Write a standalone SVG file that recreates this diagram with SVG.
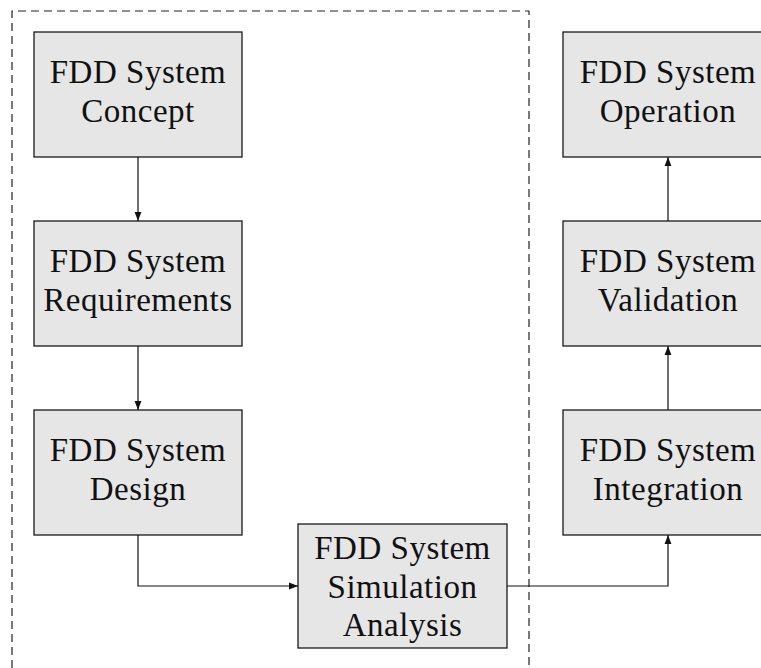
<svg xmlns="http://www.w3.org/2000/svg" width="761" height="668" viewBox="0 0 761 668">
<defs>
<style>
.box{fill:#e6e6e6;stroke:#1a1a1a;stroke-width:1.3}
.t{font-family:"Liberation Serif","DejaVu Serif",serif;font-size:33px;letter-spacing:0.5px;fill:#111;text-anchor:middle}
.c{fill:none;stroke:#111;stroke-width:1.2}
.dash{fill:none;stroke:#222;stroke-width:1.2;stroke-dasharray:8 5}
</style>
<marker id="ah" viewBox="0 0 10 10" refX="10" refY="5" markerWidth="9" markerHeight="9" markerUnits="userSpaceOnUse" orient="auto">
<path d="M0,1.2 L10,5 L0,8.8 Z" fill="#111"/>
</marker>
</defs>
<rect width="761" height="668" fill="#fff"/>
<path class="dash" d="M12,668 L12,11 L529,11 L529,668"/>
<g id="concept"><rect class="box" x="34" y="32" width="208" height="125"/><text class="t" x="138" y="83">FDD System</text><text class="t" x="138" y="122">Concept</text></g>
<g id="requirements"><rect class="box" x="34" y="221" width="208" height="125"/><text class="t" x="138" y="272">FDD System</text><text class="t" x="138" y="311">Requirements</text></g>
<g id="design"><rect class="box" x="34" y="410" width="208" height="125"/><text class="t" x="138" y="461">FDD System</text><text class="t" x="138" y="500">Design</text></g>
<g id="simulation"><rect class="box" x="298" y="524" width="209" height="124"/><text class="t" x="402.5" y="559">FDD System</text><text class="t" x="402.5" y="598">Simulation</text><text class="t" x="402.5" y="636">Analysis</text></g>
<g id="integration"><rect class="box" x="563" y="410" width="210" height="125"/><text class="t" x="668" y="461">FDD System</text><text class="t" x="668" y="500">Integration</text></g>
<g id="validation"><rect class="box" x="563" y="221" width="210" height="125"/><text class="t" x="668" y="272">FDD System</text><text class="t" x="668" y="311">Validation</text></g>
<g id="operation"><rect class="box" x="563" y="32" width="210" height="125"/><text class="t" x="668" y="83">FDD System</text><text class="t" x="668" y="122">Operation</text></g>
<g id="connectors">
<path class="c" d="M138,157 L138,221" marker-end="url(#ah)"/>
<path class="c" d="M138,346 L138,410" marker-end="url(#ah)"/>
<path class="c" d="M138,535 L138,586 L298,586" marker-end="url(#ah)"/>
<path class="c" d="M507,586 L668,586 L668,535" marker-end="url(#ah)"/>
<path class="c" d="M668,410 L668,346" marker-end="url(#ah)"/>
<path class="c" d="M668,221 L668,157" marker-end="url(#ah)"/>
</g>
</svg>
